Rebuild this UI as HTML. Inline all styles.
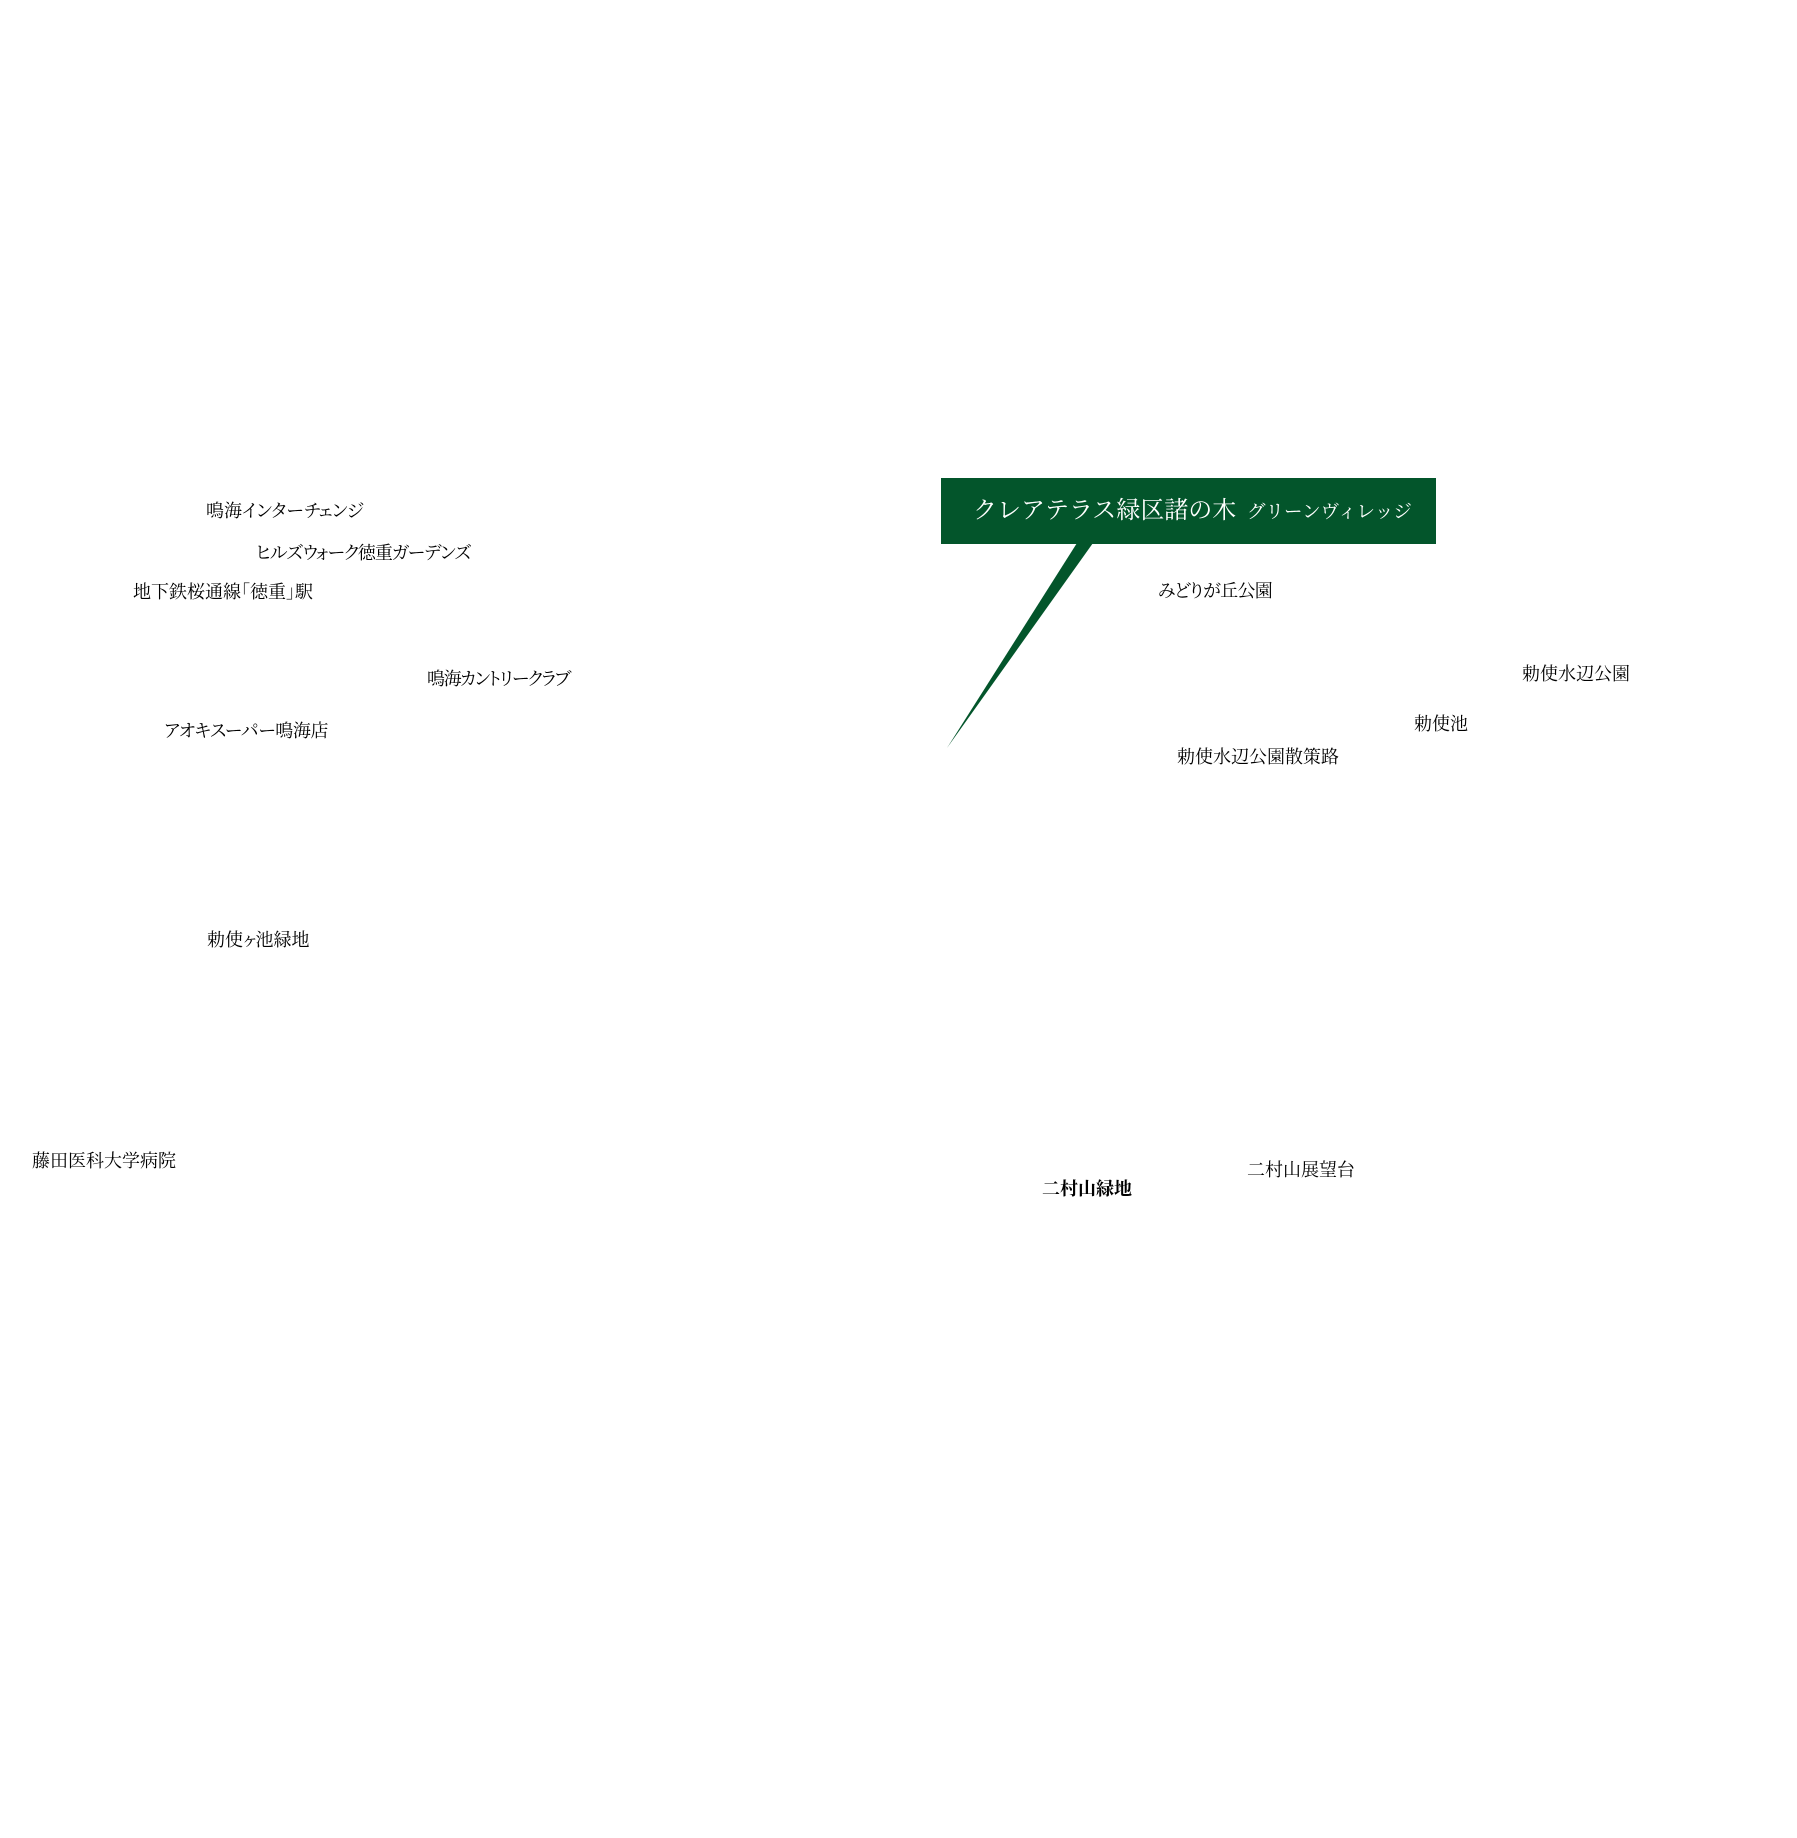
<!DOCTYPE html>
<html lang="ja">
<head>
<meta charset="utf-8">
<style>
  html, body { margin:0; padding:0; }
  body { width:1797px; height:1838px; background:#ffffff; position:relative; overflow:hidden; }
  .lbl {
    position:absolute;
    font-family:"Liberation Serif","Noto Serif CJK SC","Noto Serif CJK JP",serif;
    font-size:18px;
    line-height:20px;
    height:20px;
    white-space:nowrap;
    color:#000;
    font-feature-settings:"palt";
  }
  .b { font-weight:bold; }
  #box {
    position:absolute; left:941px; top:478px; width:495px; height:66px;
    background:#03552b;
  }
  .t1 {
    position:absolute; left:973px; top:496px; line-height:30px; height:30px;
    font-family:"Liberation Serif","Noto Serif CJK SC",serif;
    font-size:24px; color:#fff; white-space:nowrap;
  }
  .t2 {
    position:absolute; left:1247px; top:500px; line-height:26px; height:26px;
    font-family:"Liberation Serif","Noto Serif CJK SC",serif;
    font-size:18.5px; color:#fff; white-space:nowrap;
  }
</style>
</head>
<body>
<svg width="1797" height="1838" style="position:absolute;left:0;top:0">
  <polygon points="1077,543 1093,543 947,748" fill="#03552b"/>
</svg>
<div id="box"></div>
<div class="t1">クレアテラス緑区諸の木</div>
<div class="t2">グリーンヴィレッジ</div>

<div class="lbl" style="left:206px;top:501px;">鳴海インターチェンジ</div>
<div class="lbl" style="left:256px;top:543px;letter-spacing:-0.9px;">ヒルズウォーク徳重ガーデンズ</div>
<div class="lbl" style="left:133px;top:582px;">地下鉄桜通線「徳重」駅</div>
<div class="lbl" style="left:427px;top:669px;letter-spacing:-1.4px;">鳴海カントリークラブ</div>
<div class="lbl" style="left:164px;top:721px;letter-spacing:-0.4px;">アオキスーパー鳴海店</div>
<div class="lbl" style="left:207px;top:930px;">勅使ヶ池緑地</div>
<div class="lbl" style="left:32px;top:1151px;">藤田医科大学病院</div>

<div class="lbl" style="left:1158px;top:581px;letter-spacing:-0.7px;">みどりが丘公園</div>
<div class="lbl" style="left:1522px;top:664px;">勅使水辺公園</div>
<div class="lbl" style="left:1414px;top:714px;">勅使池</div>
<div class="lbl" style="left:1177px;top:747px;">勅使水辺公園散策路</div>
<div class="lbl" style="left:1247px;top:1160px;">二村山展望台</div>
<div class="lbl b" style="left:1042px;top:1179px;">二村山緑地</div>
</body>
</html>
